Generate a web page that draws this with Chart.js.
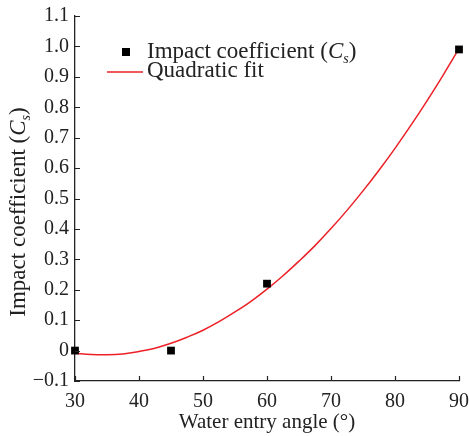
<!DOCTYPE html>
<html>
<head>
<meta charset="utf-8">
<script src="https://cdn.jsdelivr.net/npm/chart.js@4.4.0/dist/chart.umd.min.js"></script>
<style>
  html, body { margin: 0; padding: 0; background: #fff; }
</style>
</head>
<body>
<canvas id="chart" width="469" height="436"></canvas>
<script>
// measured points
const angles = [30, 45, 60, 90];
const coefficients = [0, 0, 0.22, 0.99];

// red fit curve
const fitAngles = [30, 32.5, 35, 37.5, 40, 42.5, 45, 47.5, 50, 52.5, 55, 57.5, 60,
                   62.5, 65, 67.5, 70, 72.5, 75, 77.5, 80, 82.5, 85, 87.5, 90];
const fitValues = [-0.009, -0.013, -0.014, -0.011, -0.003, 0.008, 0.024, 0.044, 0.067, 0.095, 0.127, 0.162, 0.202,
                   0.246, 0.294, 0.345, 0.401, 0.461, 0.525, 0.593, 0.665, 0.741, 0.821, 0.905, 0.993];

const xTicks = [30, 40, 50, 60, 70, 80, 90];
const yTicks = [-0.1, 0, 0.1, 0.2, 0.3, 0.4, 0.5, 0.6, 0.7, 0.8, 0.9, 1.0, 1.1];

const SERIF = '"Liberation Serif", "DejaVu Serif", serif';
const INK = '#222';
const RED = 'rgb(236, 32, 38)';

function fmtY(v) {
  if (Math.abs(v) < 1e-9) return '0';
  if (v < 0) return '\u2212' + Math.abs(v).toFixed(1);
  return v.toFixed(1);
}

// "Impact coefficient (Cs)" with italic C and subscript s
function csParts(size) {
  return [
    ['Impact coefficient (', `${size}px ${SERIF}`, 0],
    ['C', `italic ${size}px ${SERIF}`, 0],
    ['s', `italic ${Math.round(size * 0.62)}px ${SERIF}`, size * 0.22],
    [')', `${size}px ${SERIF}`, 0]
  ];
}
function measureParts(ctx, parts) {
  let w = 0;
  parts.forEach(p => { ctx.font = p[1]; w += ctx.measureText(p[0]).width; });
  return w;
}
function drawParts(ctx, parts, x, y) {
  let cx = x;
  parts.forEach(p => {
    ctx.font = p[1];
    ctx.fillText(p[0], cx, y + p[2]);
    cx += ctx.measureText(p[0]).width;
  });
}

const decorations = {
  id: 'decorations',
  afterDraw(chart) {
    const ctx = chart.ctx;
    const xs = chart.scales.x, ys = chart.scales.y;
    ctx.save();

    // inward tick marks
    ctx.strokeStyle = INK;
    ctx.lineWidth = 1.2;
    ctx.beginPath();
    xs.ticks.forEach(t => {
      const px = Math.round(xs.getPixelForValue(t.value)) + 0.5;
      ctx.moveTo(px, xs.top);
      ctx.lineTo(px, xs.top - 5);
    });
    ys.ticks.forEach(t => {
      const py = Math.round(ys.getPixelForValue(t.value)) + 0.5;
      ctx.moveTo(ys.right, py);
      ctx.lineTo(ys.right + 5, py);
    });
    ctx.stroke();

    ctx.fillStyle = INK;
    ctx.textBaseline = 'alphabetic';
    ctx.textAlign = 'left';

    // y axis title
    const parts = csParts(23);
    const w = measureParts(ctx, parts);
    ctx.save();
    ctx.translate(25, 212);
    ctx.rotate(-Math.PI / 2);
    drawParts(ctx, parts, -w / 2, 0);
    ctx.restore();

    // legend
    const ds = chart.data.datasets;
    ctx.fillStyle = '#000';
    ctx.fillRect(122, 48, 8, 8);
    ctx.fillStyle = INK;
    drawParts(ctx, csParts(23), 147, 58);

    ctx.strokeStyle = RED;
    ctx.lineWidth = 1.5;
    ctx.beginPath();
    ctx.moveTo(107, 72);
    ctx.lineTo(143, 72);
    ctx.stroke();
    ctx.font = `23px ${SERIF}`;
    ctx.fillText(ds[1].label, 147, 77);

    ctx.restore();
  }
};

new Chart(document.getElementById('chart'), {
  type: 'scatter',
  data: {
    datasets: [
      {
        label: 'Impact coefficient (Cs)',
        data: angles.map((a, i) => ({ x: a, y: coefficients[i] })),
        pointStyle: 'rect',
        pointRadius: 5.5,
        pointHoverRadius: 5.5,
        backgroundColor: '#000',
        borderColor: '#000',
        borderWidth: 0,
        showLine: false,
        clip: false
      },
      {
        label: 'Quadratic fit',
        data: fitAngles.map((a, i) => ({ x: a, y: fitValues[i] })),
        showLine: true,
        borderColor: RED,
        borderWidth: 1.5,
        pointRadius: 0,
        tension: 0.4,
        fill: false
      }
    ]
  },
  options: {
    responsive: false,
    animation: false,
    layout: { padding: { top: 16, right: 10, left: 0, bottom: 0 } },
    plugins: {
      legend: { display: false },
      tooltip: { enabled: false }
    },
    scales: {
      x: {
        type: 'linear',
        min: 30,
        max: 90,
        afterBuildTicks: s => { s.ticks = xTicks.map(v => ({ value: v })); },
        afterFit: s => { s.height = 55; s.paddingLeft = 0; s.paddingRight = 0; },
        grid: { display: false, drawTicks: false },
        border: { display: true, color: INK, width: 1.3 },
        ticks: {
          color: INK,
          padding: 9,
          maxRotation: 0,
          font: { family: SERIF, size: 20 }
        },
        title: {
          display: true,
          text: 'Water entry angle (\u00b0)',
          color: INK,
          padding: { top: 0, bottom: 1 },
          font: { family: SERIF, size: 21 }
        }
      },
      y: {
        type: 'linear',
        min: -0.1,
        max: 1.1,
        afterBuildTicks: s => { s.ticks = yTicks.map(v => ({ value: v })); },
        afterFit: s => { s.width = 75; s.paddingTop = 0; s.paddingBottom = 0; },
        grid: { display: false, drawTicks: false },
        border: { display: true, color: INK, width: 1.3 },
        ticks: {
          color: INK,
          padding: 6,
          font: { family: SERIF, size: 20 },
          callback: v => fmtY(v)
        }
      }
    }
  },
  plugins: [decorations]
});
</script>
</body>
</html>
